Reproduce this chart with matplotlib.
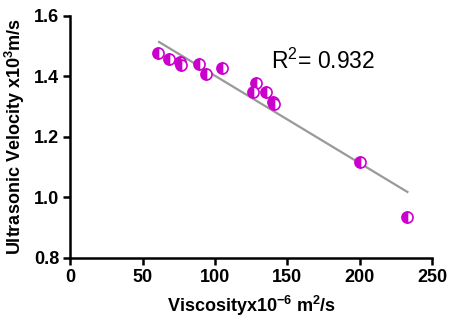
import numpy as np
import matplotlib
matplotlib.use('Agg')
import matplotlib.pyplot as plt

plt.rcParams['font.family'] = ['Liberation Sans', 'DejaVu Sans']
plt.rcParams['mathtext.fontset'] = 'custom'
plt.rcParams['mathtext.rm'] = 'Liberation Sans:bold'
plt.rcParams['mathtext.bf'] = 'Liberation Sans:bold'

# Data
viscosity = [60.7, 68.3, 75.9, 76.6, 89.0, 93.8, 104.8, 128.3, 126.2, 135.2, 140.0, 140.7, 200.0, 233.0]
velocity = [1.478, 1.458, 1.448, 1.438, 1.441, 1.408, 1.428, 1.379, 1.349, 1.349, 1.316, 1.309, 1.117, 0.936]

# regression line end points
fit_x = [61.4, 233.0]
fit_y = [1.514, 1.018]
r2_text = r'R$\mathregular{^2}$= 0.932'

x_ticks = [0, 50, 100, 150, 200, 250]
y_ticks = [0.8, 1.0, 1.2, 1.4, 1.6]

fig = plt.figure(figsize=(4.5, 3.26), dpi=100)
ax = fig.add_axes([0.156, 0.209, 0.804, 0.742])

ax.plot(fit_x, fit_y, color='#999999', lw=1.6, zorder=2)
ax.plot(viscosity, velocity, 'o', ms=8, color='#cc00cc', mfc='#cc00cc',
        mfcalt='white', fillstyle='left', mec='#cc00cc', mew=1.2, zorder=3)

ax.text(139, 1.45, r2_text, fontsize=16.5, va='center', ha='left')

ax.set_xlim(0, 250)
ax.set_ylim(0.8, 1.6)
ax.set_xticks(x_ticks)
ax.set_yticks(y_ticks)
ax.set_yticklabels(['%.1f' % v for v in y_ticks])
for s in ['top', 'right']:
    ax.spines[s].set_visible(False)
for s in ['left', 'bottom']:
    ax.spines[s].set_linewidth(1.8)
ax.tick_params(width=1.8, length=5, labelsize=13, pad=3)
for lab in ax.get_xticklabels() + ax.get_yticklabels():
    lab.set_fontweight('bold')

ax.set_xlabel(r'Viscosityx10$^{-6}$ m$^2$/s', fontsize=13, fontweight='bold', labelpad=6)
ax.set_ylabel(r'Ultrasonic Velocity x10$^3$m/s', fontsize=13, fontweight='bold', labelpad=5)

fig.savefig('out.png', dpi=100)
